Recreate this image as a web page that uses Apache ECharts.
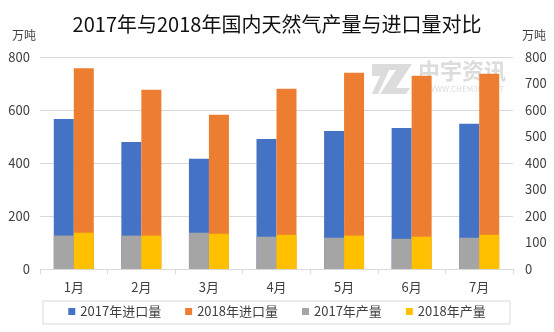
<!DOCTYPE html>
<html>
<head>
<meta charset="utf-8">
<script src="https://cdn.jsdelivr.net/npm/echarts@6/dist/echarts.min.js"></script>
<style>
  html, body { margin: 0; padding: 0; background: #fff; }
  #chart { width: 554px; height: 332px; }
</style>
</head>
<body>
<div id="chart"></div>
<script>
// 2017 / 2018 国内天然气产量与进口量（万吨）
const MONTHS = ['1月', '2月', '3月', '4月', '5月', '6月', '7月'];
const IMPORT_2017 = [566, 479, 416, 491, 521, 532, 548];
const IMPORT_2018 = [758, 676, 582, 680, 741, 729, 737];
const PROD_2017 = [126, 126, 137, 122, 118, 114, 118];
const PROD_2018 = [137, 126, 133, 129, 126, 122, 129];

const FONT = '"Noto Sans CJK SC", "Noto Sans", sans-serif';
const TXT = '#404040';
const GRID = '#d9d9d9';
const COLORS = { imp17: '#4472c4', imp18: '#ed7d31', prod17: '#a5a5a5', prod18: '#ffc000' };

const chart = echarts.init(document.getElementById('chart'));

function bar(name, data, color, axisIdx) {
  return {
    name: name,
    type: 'bar',
    xAxisIndex: axisIdx,
    yAxisIndex: axisIdx,
    barWidth: 20,
    barGap: 0,
    itemStyle: { color: color },
    emphasis: { disabled: true },
    data: data,
  };
}

chart.setOption({
  animation: false,
  backgroundColor: '#fff',
  textStyle: { fontFamily: FONT },
  title: {
    text: '2017年与2018年国内天然气产量与进口量对比',
    left: 'center',
    top: 9,
    textStyle: { fontFamily: FONT, fontSize: 20, fontWeight: 'normal', color: '#111' },
  },
  legend: {
    data: ['2017年进口量', '2018年进口量', '2017年产量', '2018年产量'],
    left: 'center',
    top: 305,
    padding: 0,
    icon: 'rect',
    itemWidth: 7,
    itemHeight: 7,
    itemGap: 24,
    textStyle: { fontFamily: FONT, fontSize: 13, color: TXT },
  },
  graphic: [
    {
      type: 'rect',
      z: -1,
      shape: { x: 43, y: 301, width: 467, height: 23 },
      style: { fill: 'none', stroke: GRID, lineWidth: 1 },
    },
    {
      type: 'text', left: 12, top: 29, z: 10,
      style: { text: '万吨', fontFamily: FONT, fontSize: 12, fill: TXT },
    },
    {
      type: 'text', left: 522, top: 29, z: 10,
      style: { text: '万吨', fontFamily: FONT, fontSize: 12, fill: TXT },
    },
    // 水印
    {
      type: 'polygon', z: -1,
      shape: { points: [[372, 64], [392, 64], [378, 94], [372, 94], [380, 76], [372, 76]] },
      style: { fill: '#dcdcdc' },
    },
    {
      type: 'polygon', z: -1,
      shape: { points: [[386, 64], [412, 64], [396, 88], [410, 88], [406, 94], [380, 94], [396, 70], [384, 70]] },
      style: { fill: '#dcdcdc' },
    },
    {
      type: 'text', left: 418, top: 60, z: -1,
      style: { text: '中宇资讯', fontFamily: FONT, fontSize: 22, fontWeight: 'bold', fill: '#dcdcdc' },
    },
    {
      type: 'text', left: 428, top: 85, z: -1,
      style: { text: 'WWW.CHEM365.NET', fontFamily: FONT, fontSize: 8, fill: '#dcdcdc' },
    },
  ],
  grid: { left: 40, right: 41, top: 57, bottom: 63 },
  xAxis: [
    {
      type: 'category',
      data: MONTHS,
      axisLine: { lineStyle: { color: GRID } },
      axisTick: { show: true, length: 5, lineStyle: { color: GRID } },
      axisLabel: { color: TXT, fontSize: 13, margin: 12, fontFamily: FONT },
    },
    {
      type: 'category',
      data: MONTHS,
      show: false,
    },
  ],
  yAxis: [
    {
      type: 'value',
      min: 0,
      max: 800,
      interval: 200,
      axisLine: { show: false },
      axisTick: { show: false },
      axisLabel: { color: TXT, fontSize: 13, margin: 10, fontFamily: FONT },
      splitLine: { lineStyle: { color: GRID } },
    },
    {
      type: 'value',
      position: 'right',
      min: 0,
      max: 800,
      interval: 100,
      axisLine: { show: false },
      axisTick: { show: false },
      axisLabel: { color: TXT, fontSize: 13, margin: 12, fontFamily: FONT },
      splitLine: { show: false },
    },
  ],
  series: [
    bar('2017年进口量', IMPORT_2017, COLORS.imp17, 0),
    bar('2018年进口量', IMPORT_2018, COLORS.imp18, 0),
    bar('2017年产量', PROD_2017, COLORS.prod17, 1),
    bar('2018年产量', PROD_2018, COLORS.prod18, 1),
  ],
});
</script>
</body>
</html>
